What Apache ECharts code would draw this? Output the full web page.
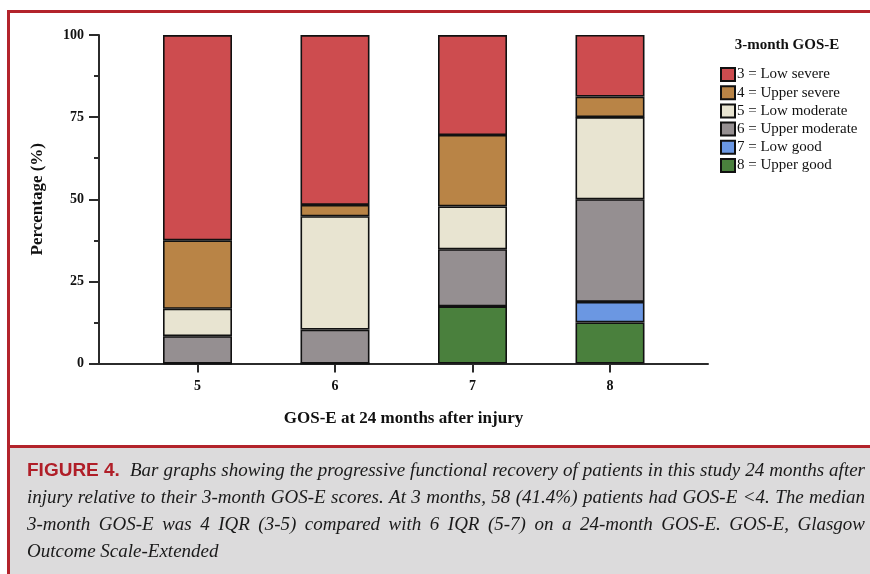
<!DOCTYPE html>
<html>
<head>
<meta charset="utf-8">
<title>GOS-E recovery</title>
<script src="https://cdn.jsdelivr.net/npm/echarts@6/dist/echarts.min.js"></script>
<style>
  html, body { margin: 0; padding: 0; background: #ffffff; }
  #chart { width: 870px; height: 574px; }
</style>
</head>
<body>
<div id="chart"></div>
<script>
// 24-month GOS-E categories (x axis)
const categories = ['5', '6', '7', '8'];

// Share (%) of each 24-month group by 3-month GOS-E, stacked bottom to top
const upperGood     = [0, 0, 17.39, 12.5];
const lowGood       = [0, 0, 0, 6.25];
const upperModerate = [8.33, 10.34, 17.39, 31.25];
const lowModerate   = [8.33, 34.48, 13.04, 25];
const upperSevere   = [20.83, 3.45, 21.74, 6.25];
const lowSevere     = [62.5, 51.72, 30.43, 18.75];

const yTicks = [0, 25, 50, 75, 100];

const captionLead = 'FIGURE 4.';
const captionLines = [
  'Bar graphs showing the progressive functional recovery of patients in this study 24 months after',
  'injury relative to their 3-month GOS-E scores. At 3 months, 58 (41.4%) patients had GOS-E <4. The median',
  '3-month GOS-E was 4 IQR (3-5) compared with 6 IQR (5-7) on a 24-month GOS-E. GOS-E, Glasgow',
  'Outcome Scale-Extended'
];

const SERIF = '"Liberation Serif", "Times New Roman", serif';
const AXIS_COLOR = '#2b2b2b';
const FRAME_RED = '#b3232b';
const CAPTION_FONT = 'italic 19px ' + SERIF;

const seriesDefs = [
  { name: '8 = Upper good',     data: upperGood,     color: '#4a803d' },
  { name: '7 = Low good',       data: lowGood,       color: '#6b97e2' },
  { name: '6 = Upper moderate', data: upperModerate, color: '#958f91' },
  { name: '5 = Low moderate',   data: lowModerate,   color: '#e8e4d1' },
  { name: '4 = Upper severe',   data: upperSevere,   color: '#b98446' },
  { name: '3 = Low severe',     data: lowSevere,     color: '#cd4c4f' }
];

// Lay out one caption line as word elements spread across [x0, x1] (justified)
const measureCtx = document.createElement('canvas').getContext('2d');
function justifiedLine(text, x0, x1, y, justify) {
  measureCtx.font = CAPTION_FONT;
  const words = text.split(' ');
  const widths = words.map(w => measureCtx.measureText(w).width);
  const total = widths.reduce((a, b) => a + b, 0);
  const space = measureCtx.measureText(' ').width;
  const gap = justify && words.length > 1 ? (x1 - x0 - total) / (words.length - 1) : space;
  const out = [];
  let x = x0;
  words.forEach((w, i) => {
    out.push({
      type: 'text', x: x, y: y, z: 5,
      style: { text: w, fill: '#1a1a1a', font: CAPTION_FONT, textVerticalAlign: 'middle' }
    });
    x += widths[i] + gap;
  });
  return out;
}

const captionRows = [471, 498, 525, 552];
const captionText = [].concat(
  justifiedLine(captionLines[0], 130, 865, captionRows[0], true),
  justifiedLine(captionLines[1], 27, 865, captionRows[1], true),
  justifiedLine(captionLines[2], 27, 865, captionRows[2], true),
  justifiedLine(captionLines[3], 27, 865, captionRows[3], false)
);

const chart = echarts.init(document.getElementById('chart'), null, { renderer: 'canvas' });

const plotTop = 35;
const plotHeight = 328.5;

chart.setOption({
  animation: false,
  backgroundColor: '#ffffff',
  grid: [
    { left: 128.75, width: 550, top: plotTop, height: plotHeight },
    { left: 99, width: 609, top: plotTop, height: plotHeight }
  ],
  xAxis: [
    {
      gridIndex: 0,
      type: 'category',
      data: categories,
      axisLine: { show: false },
      axisTick: { show: true, alignWithLabel: true, length: 9, lineStyle: { color: AXIS_COLOR, width: 2 } },
      axisLabel: { margin: 16, color: '#111', fontFamily: SERIF, fontWeight: 'bold', fontSize: 14 },
      splitLine: { show: false }
    },
    {
      gridIndex: 1,
      type: 'value',
      min: 0,
      max: 1,
      axisLine: { show: true, onZero: false, lineStyle: { color: AXIS_COLOR, width: 2 } },
      axisTick: { show: false },
      axisLabel: { show: false },
      splitLine: { show: false },
      name: 'GOS-E at 24 months after injury',
      nameLocation: 'middle',
      nameGap: 47,
      nameTextStyle: { color: '#111', fontFamily: SERIF, fontWeight: 'bold', fontSize: 17 }
    }
  ],
  yAxis: [
    { gridIndex: 0, type: 'value', min: 0, max: 100, show: false },
    {
      gridIndex: 1,
      type: 'value',
      min: 0,
      max: 100,
      interval: 25,
      axisLine: { show: true, onZero: false, lineStyle: { color: AXIS_COLOR, width: 2 } },
      axisTick: { show: true, length: 10, lineStyle: { color: AXIS_COLOR, width: 2 } },
      minorTick: { show: true, splitNumber: 2, length: 5, lineStyle: { color: AXIS_COLOR, width: 2 } },
      axisLabel: {
        margin: 15, color: '#111', fontFamily: SERIF, fontWeight: 'bold', fontSize: 14,
        formatter: v => (yTicks.includes(v) ? String(v) : '')
      },
      splitLine: { show: false },
      minorSplitLine: { show: false },
      name: 'Percentage (%)',
      nameLocation: 'middle',
      nameGap: 53,
      nameTextStyle: { color: '#111', fontFamily: SERIF, fontWeight: 'bold', fontSize: 17 }
    }
  ],
  legend: {
    orient: 'vertical',
    left: 715,
    top: 62,
    icon: 'rect',
    itemWidth: 14,
    itemHeight: 13,
    itemGap: 3.2,
    data: seriesDefs.map(s => s.name).reverse(),
    textStyle: { color: '#111', fontFamily: SERIF, fontSize: 15, padding: [0, 0, 0, -3] }
  },
  graphic: [
    // outer frame and caption panel
    { type: 'rect', z: 0, shape: { x: 10, y: 447, width: 860, height: 127 }, style: { fill: '#dcdbdc' } },
    { type: 'rect', z: 1, shape: { x: 7, y: 10, width: 863, height: 3 }, style: { fill: FRAME_RED } },
    { type: 'rect', z: 1, shape: { x: 7, y: 10, width: 3, height: 564 }, style: { fill: FRAME_RED } },
    { type: 'rect', z: 1, shape: { x: 7, y: 445, width: 863, height: 3 }, style: { fill: FRAME_RED } },
    // legend heading
    {
      type: 'text', x: 787, y: 45, z: 5,
      style: { text: '3-month GOS-E', fill: '#111', font: 'bold 15px ' + SERIF, textAlign: 'center', textVerticalAlign: 'middle' }
    },
    // figure caption
    {
      type: 'text', x: 27, y: captionRows[0], z: 5,
      style: { text: captionLead, fill: '#b01e28', font: 'bold 19px "Liberation Sans Narrow", "Liberation Sans", sans-serif', textVerticalAlign: 'middle' }
    }
  ].concat(captionText),
  series: seriesDefs.map(s => ({
    name: s.name,
    type: 'bar',
    xAxisIndex: 0,
    yAxisIndex: 0,
    stack: 'total',
    barWidth: 69,
    data: s.data,
    itemStyle: { color: s.color, borderColor: '#111', borderWidth: 1.6 }
  }))
});
</script>
</body>
</html>
